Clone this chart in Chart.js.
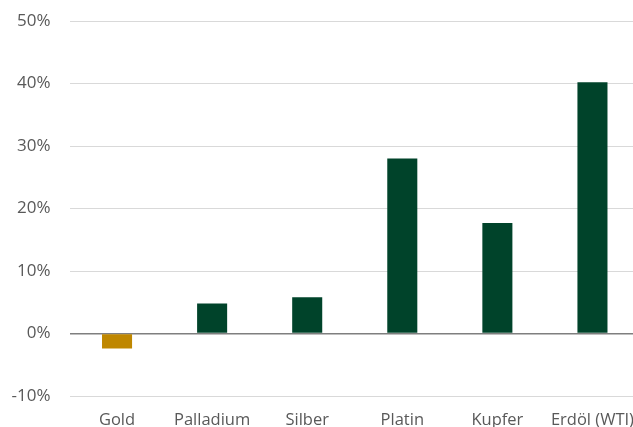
<!DOCTYPE html>
<html>
<head>
<meta charset="utf-8">
<script src="https://cdn.jsdelivr.net/npm/chart.js@4"></script>
<style>
  html, body { margin: 0; padding: 0; width: 633px; height: 427px; overflow: hidden; background: #fff; }
  #wrap { position: absolute; left: 0; top: 0; width: 633px; height: 427px; overflow: hidden; }
  #chart { position: absolute; left: 0; top: 0; }
</style>
</head>
<body>
<div id="wrap"><canvas id="chart" width="640" height="440"></canvas></div>
<script>
const rohstoffe = ['Gold', 'Palladium', 'Silber', 'Platin', 'Kupfer', 'Erdöl (WTI)'];
const performance = [-2.4, 4.8, 5.8, 28.0, 17.7, 40.2];
const farben = ['#BF8700', '#00432A', '#00432A', '#00432A', '#00432A', '#00432A'];
const yMin = -10, yMax = 50, yStep = 10;

const familie = "'Open Sans', 'Noto Sans', sans-serif";

new Chart(document.getElementById('chart'), {
  type: 'bar',
  data: {
    labels: rohstoffe,
    datasets: [{
      data: performance,
      backgroundColor: farben,
      borderWidth: 0,
      categoryPercentage: 1,
      barPercentage: 0.316
    }]
  },
  options: {
    responsive: false,
    animation: false,
    layout: { padding: { top: 21, right: 0, bottom: 0, left: 0 } },
    plugins: { legend: { display: false }, tooltip: { enabled: false } },
    scales: {
      x: {
        grid: { display: false, drawTicks: false },
        border: { display: false },
        ticks: { color: '#595959', font: { family: familie, size: 16.5 }, padding: 14, maxRotation: 0, autoSkip: false },
        afterFit: s => { s.height = 44; s.paddingLeft = 0; s.paddingRight = 0; }
      },
      y: {
        min: yMin,
        max: yMax,
        grid: {
          drawTicks: false,
          color: c => c.tick && c.tick.value === 0 ? '#7f7f7f' : '#d9d9d9',
          lineWidth: c => c.tick && c.tick.value === 0 ? 1.5 : 1
        },
        border: { display: false },
        ticks: {
          stepSize: yStep,
          color: '#595959',
          font: { family: familie, size: 17 },
          padding: 19,
          callback: v => v + '%'
        },
        afterFit: s => { s.width = 69.5; s.paddingTop = 0; s.paddingBottom = 0; }
      }
    }
  }
});
</script>
</body>
</html>
